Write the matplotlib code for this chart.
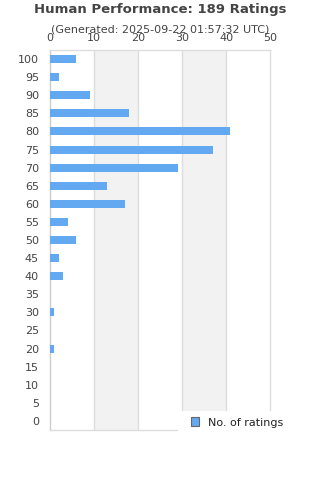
import matplotlib
matplotlib.use("Agg")
import matplotlib.pyplot as plt
from matplotlib.patches import Patch, Rectangle

categories = [100, 95, 90, 85, 80, 75, 70, 65, 60, 55, 50, 45, 40, 35, 30, 25, 20, 15, 10, 5, 0]
counts = [6, 2, 9, 18, 41, 37, 29, 13, 17, 4, 6, 2, 3, 0, 1, 0, 1, 0, 0, 0, 0]
x_ticks = [0, 10, 20, 30, 40, 50]
title = "Human Performance: 189 Ratings"
subtitle = "(Generated: 2025-09-22 01:57:32 UTC)"
series_name = "No. of ratings"

text_color = "#444444"
bar_color = "#62a9f2"
grid_color = "#dddddd"
band_color = "#f2f2f2"

fig = plt.figure(figsize=(3.2, 4.8), dpi=100)
ax = fig.add_axes([50/320, 1-430/480, 220/320, 380/480])

n = len(categories)
ypos = list(range(n))
ax.barh(ypos, counts, height=0.44, color=bar_color, zorder=3)
ax.set_ylim(n - 0.5, -0.5)
ax.set_xlim(0, 50)

# alternating bands
for i in range(len(x_ticks) - 1):
    if i % 2 == 1:
        ax.axvspan(x_ticks[i], x_ticks[i+1], color=band_color, zorder=0, lw=0)
for xt in x_ticks[1:-1]:
    ax.axvline(xt, color=grid_color, lw=1, zorder=1)

ax.set_yticks(ypos)
ax.set_yticklabels([str(c) for c in categories])
ax.set_xticks(x_ticks)
ax.xaxis.tick_top()
ax.tick_params(axis="both", length=0, labelsize=8, colors=text_color)
ax.tick_params(axis="y", pad=8)
ax.tick_params(axis="x", pad=5)

for s in ["top", "right", "bottom"]:
    ax.spines[s].set_color(grid_color)
ax.spines["left"].set_color("#cccccc")
for s in ax.spines.values():
    s.set_linewidth(1)

fig.text(0.5, 1-10/480, title, ha="center", va="center", fontsize=9.5,
         fontweight="bold", color=text_color)
fig.text(0.5, 1-29/480, subtitle, ha="center", va="center", fontsize=8,
         color=text_color)

# white legend box covering the lower-right corner of the plot area
fig.patches.append(Rectangle((178/320, 1-445/480), 142/320, 34/480,
                             transform=fig.transFigure, facecolor="white",
                             edgecolor="none", zorder=5))

handle = Patch(facecolor=bar_color, edgecolor="#666666", linewidth=0.8)
leg = fig.legend([handle], [series_name], loc="center left",
                 bbox_to_anchor=(185/320, 1-422.5/480), fontsize=8,
                 frameon=False, handlelength=0.8, handleheight=0.8,
                 borderpad=0, handletextpad=0.8)
leg.set_zorder(6)
for t in leg.get_texts():
    t.set_color("#222222")

fig.savefig("out.png", dpi=100)
